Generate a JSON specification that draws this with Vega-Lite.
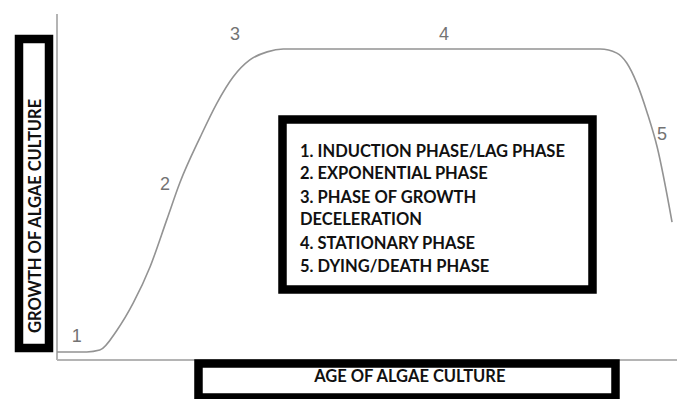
{
  "$schema": "https://vega.github.io/schema/vega-lite/v6.json",
  "width": 677,
  "height": 399,
  "padding": 0,
  "autosize": "none",
  "background": "white",
  "config": {"view": {"stroke": null}},
  "datasets": {
    "curve": [
      {"age": 0, "growth": 2.6},
      {"age": 4.8, "growth": 2.6},
      {"age": 6.9, "growth": 3.2},
      {"age": 9.7, "growth": 9.7},
      {"age": 12.3, "growth": 18.4},
      {"age": 15.0, "growth": 30.0},
      {"age": 17.7, "growth": 45.2},
      {"age": 19.8, "growth": 57.1},
      {"age": 23.1, "growth": 71.9},
      {"age": 25.8, "growth": 82.9},
      {"age": 28.4, "growth": 91.3},
      {"age": 31.1, "growth": 96.8},
      {"age": 33.9, "growth": 99.4},
      {"age": 36.5, "growth": 100.3},
      {"age": 39.2, "growth": 100.3},
      {"age": 87.6, "growth": 100.3},
      {"age": 90.3, "growth": 99.0},
      {"age": 91.9, "growth": 95.8},
      {"age": 93.5, "growth": 89.4},
      {"age": 95.2, "growth": 79.7},
      {"age": 96.8, "growth": 68.7},
      {"age": 99.2, "growth": 44.5}
    ],
    "axes": [
      {"x1": 0, "x2": 0, "y1": 0, "y2": 111.6},
      {"x1": 0, "x2": 100, "y1": 0, "y2": 0}
    ],
    "phases": [
      {"age": 3.2, "growth": 7.4, "label": "1"},
      {"age": 17.4, "growth": 56.5, "label": "2"},
      {"age": 28.7, "growth": 104.8, "label": "3"},
      {"age": 62.4, "growth": 104.8, "label": "4"},
      {"age": 97.6, "growth": 72.6, "label": "5"}
    ],
    "boxes": [
      {"x1": -6.13, "x2": -1.29, "y1": 103.55, "y2": 3.87, "w": "a"},
      {"x1": 22.82, "x2": 90.08, "y1": -1.13, "y2": -12.1, "w": "b"},
      {"x1": 36.37, "x2": 86.37, "y1": 77.58, "y2": 22.74, "w": "c"}
    ],
    "legend": [
      {"x": 39.2, "y": 67.1, "t": "1. INDUCTION PHASE/LAG PHASE"},
      {"x": 39.2, "y": 60.0, "t": "2. EXPONENTIAL PHASE"},
      {"x": 39.2, "y": 52.3, "t": "3. PHASE OF GROWTH"},
      {"x": 39.2, "y": 45.2, "t": "DECELERATION"},
      {"x": 39.2, "y": 37.4, "t": "4. STATIONARY PHASE"},
      {"x": 39.2, "y": 30.0, "t": "5. DYING/DEATH PHASE"}
    ],
    "titles": [
      {"x": 56.9, "y": -5.5, "t": "AGE OF ALGAE CULTURE", "a": 0},
      {"x": -3.4, "y": 46.5, "t": "GROWTH OF ALGAE CULTURE", "a": 270}
    ]
  },
  "layer": [
    {
      "data": {"name": "axes"},
      "mark": {"type": "rule", "color": "#b4b4b4", "strokeWidth": 2},
      "encoding": {
        "x": {"field": "x1", "type": "quantitative", "scale": {"domain": [-9.194, 100], "nice": false, "zero": false}, "axis": null},
        "x2": {"field": "x2"},
        "y": {"field": "y1", "type": "quantitative", "scale": {"domain": [-12.58, 116.13], "nice": false, "zero": false}, "axis": null},
        "y2": {"field": "y2"}
      }
    },
    {
      "data": {"name": "curve"},
      "mark": {"type": "line", "color": "#939393", "strokeWidth": 1.6, "interpolate": "monotone"},
      "encoding": {
        "x": {"field": "age", "type": "quantitative"},
        "y": {"field": "growth", "type": "quantitative"}
      }
    },
    {
      "data": {"name": "phases"},
      "mark": {"type": "text", "color": "#737373", "font": "Liberation Sans", "fontSize": 18, "align": "center", "baseline": "middle"},
      "encoding": {
        "x": {"field": "age", "type": "quantitative"},
        "y": {"field": "growth", "type": "quantitative"},
        "text": {"field": "label"}
      }
    },
    {
      "data": {"name": "boxes"},
      "mark": {"type": "rect", "fill": "white", "stroke": "black", "strokeWidth": 8.5},
      "encoding": {
        "x": {"field": "x1", "type": "quantitative"},
        "x2": {"field": "x2"},
        "y": {"field": "y1", "type": "quantitative"},
        "y2": {"field": "y2"}
      }
    },
    {
      "data": {"name": "legend"},
      "mark": {"type": "text", "color": "#111111", "font": "Lato", "fontWeight": "bold", "fontSize": 16.5, "align": "left", "baseline": "middle"},
      "encoding": {
        "x": {"field": "x", "type": "quantitative"},
        "y": {"field": "y", "type": "quantitative"},
        "text": {"field": "t"}
      }
    },
    {
      "data": {"name": "titles"},
      "mark": {"type": "text", "color": "#111111", "font": "Lato", "fontWeight": "bold", "fontSize": 16.5, "align": "center", "baseline": "middle"},
      "encoding": {
        "x": {"field": "x", "type": "quantitative"},
        "y": {"field": "y", "type": "quantitative"},
        "text": {"field": "t"},
        "angle": {"field": "a", "type": "quantitative", "scale": null}
      }
    }
  ]
}
